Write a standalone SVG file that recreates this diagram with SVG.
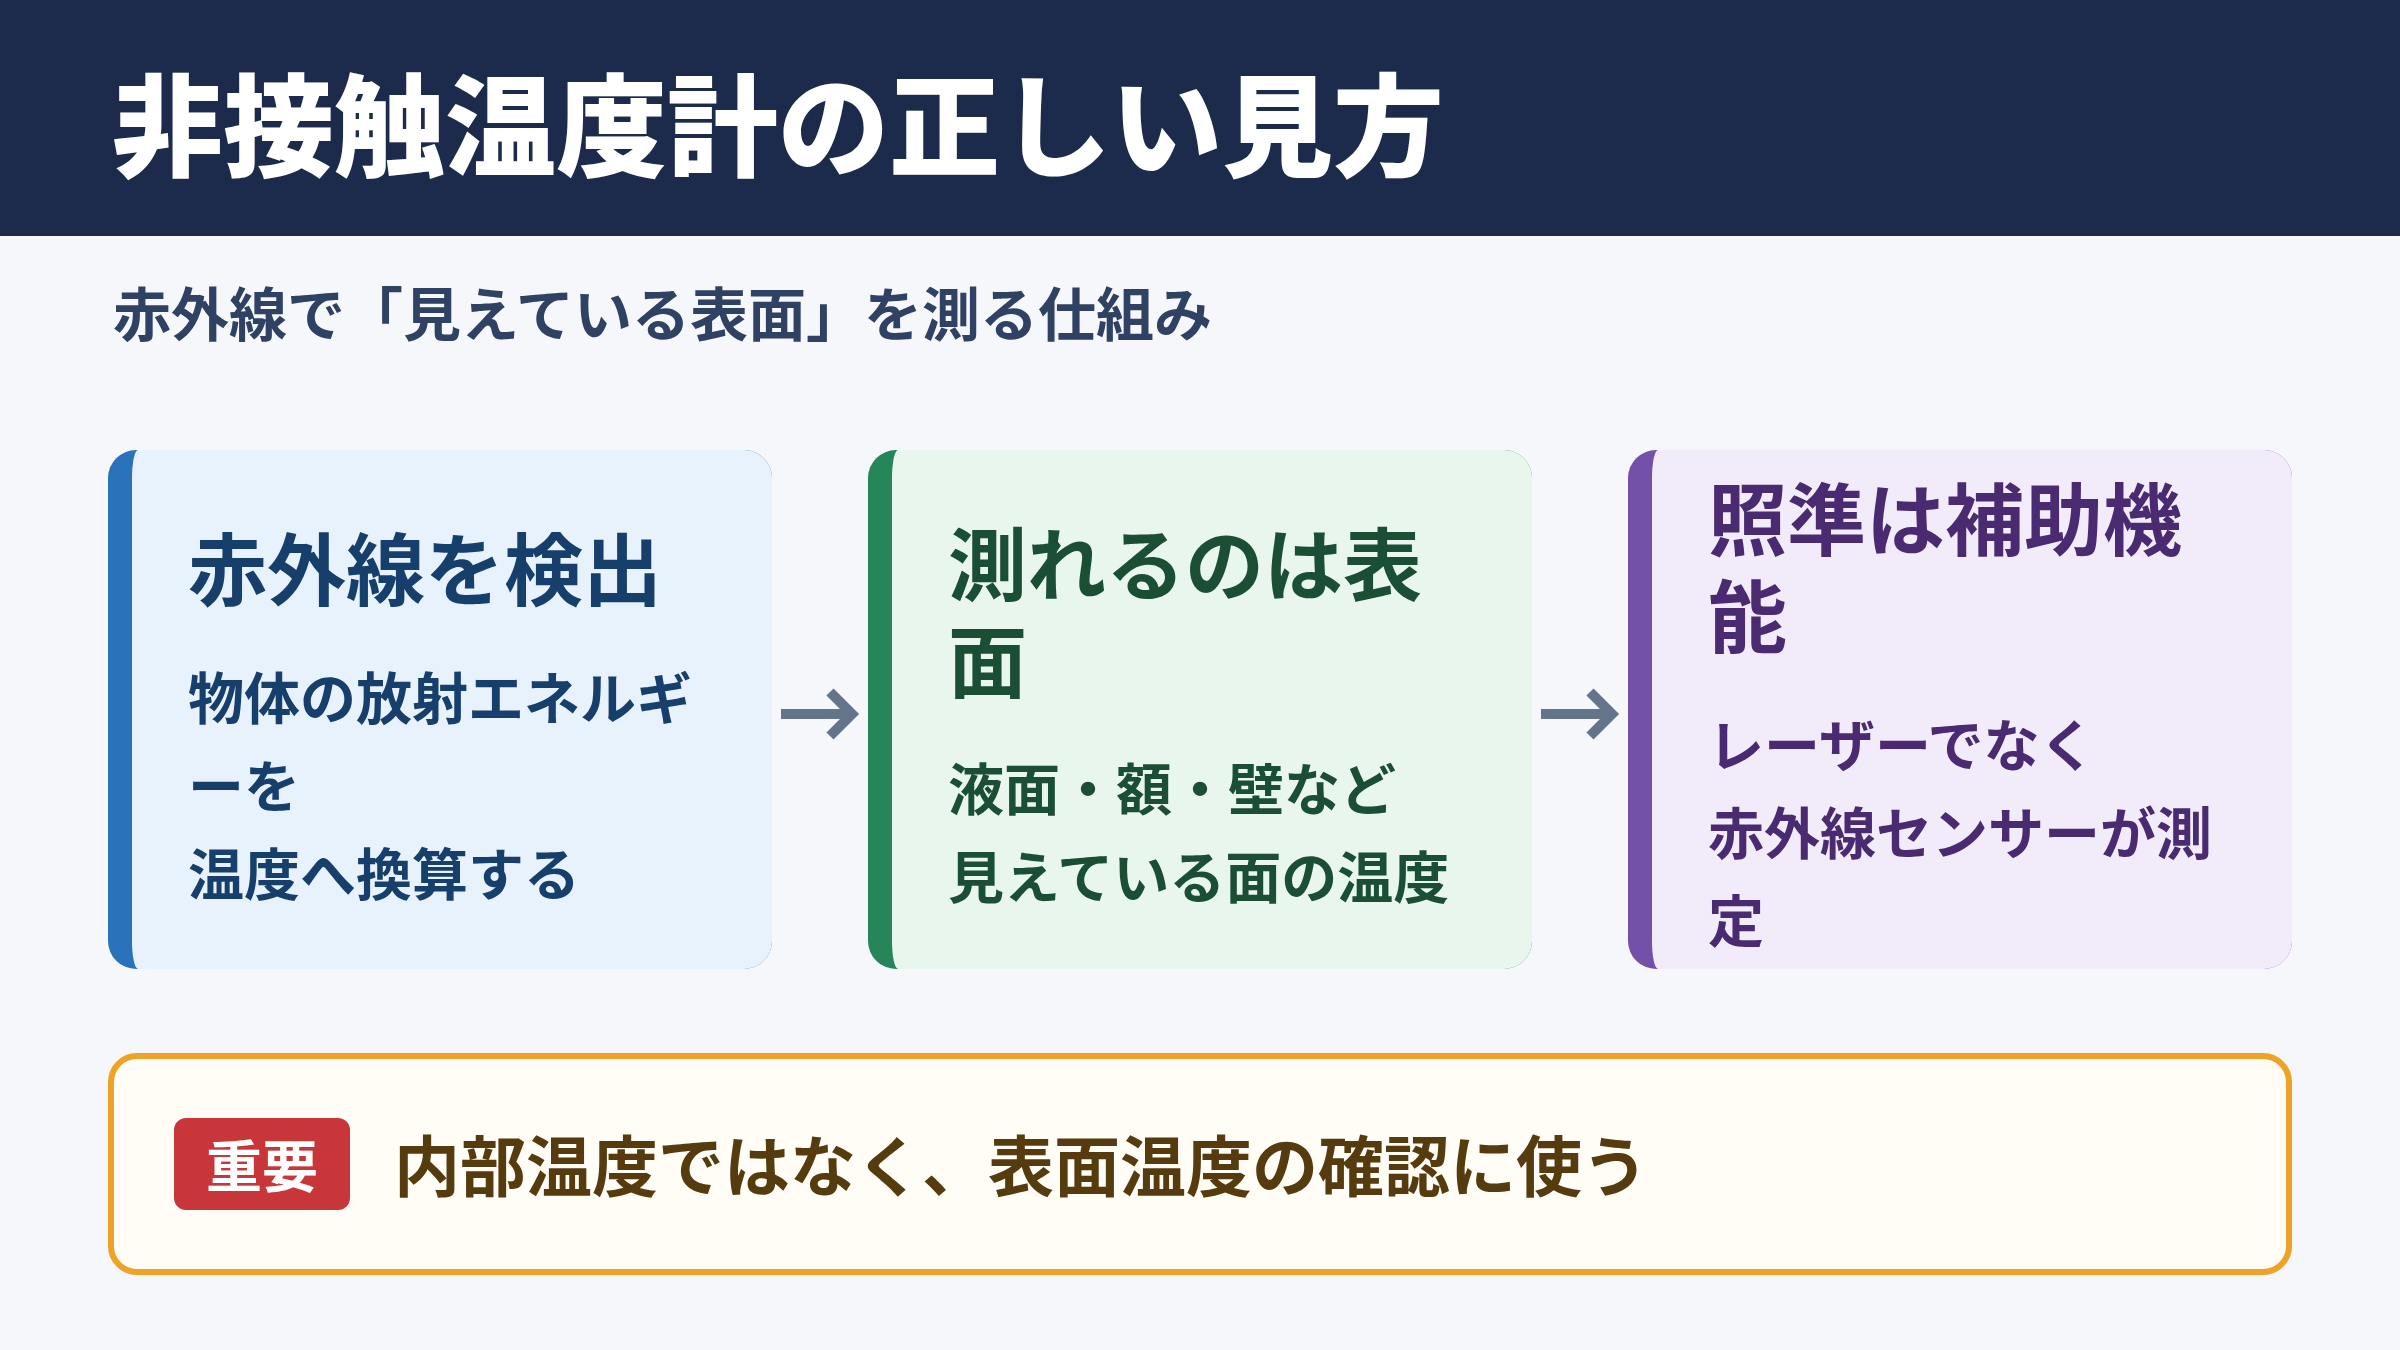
<svg xmlns="http://www.w3.org/2000/svg" width="2400" height="1350" viewBox="0 0 2400 1350">
<style>
text{font-family:"Noto Sans CJK JP","Noto Sans CJK SC",sans-serif;font-weight:700}
.title{font-size:111px;fill:#ffffff;font-weight:900}
.sub{font-size:58px;fill:#2f4263}
.ct{font-size:79px}
.cb{font-size:56px}
.c1{fill:#173f6b}.c2{fill:#1b4f35}.c3{fill:#4a2b72}
.arrow{fill:none;stroke:#64748b;stroke-width:10;stroke-linejoin:miter}
</style>
<rect x="0" y="0" width="2400" height="1350" fill="#f5f7fb"/>
<g id="header">
<rect x="0" y="0" width="2400" height="236" fill="#1c2b4c"/>
<text class="title" x="112" y="168">非接触温度計の正しい見方</text>
</g>
<g id="subtitle">
<text class="sub" x="113" y="336">赤外線で「見えている表面」を測る仕組み</text>
</g>
<g id="card1">
<rect x="108" y="450" width="664" height="519" rx="28" fill="#2a73bb"/>
<path d="M138,450 H744 A28,28 0 0 1 772,478 V941 A28,28 0 0 1 744,969 H138 A6,28 0 0 1 132,941 V478 A6,28 0 0 1 138,450 Z" fill="#e8f2fd"/>
<text class="ct c1" x="188" y="600">赤外線を検出</text>
<text class="cb c1" x="188" y="719">物体の放射エネルギ</text>
<text class="cb c1" x="188" y="807">ーを</text>
<text class="cb c1" x="188" y="895">温度へ換算する</text>
</g>
<g id="card2">
<rect x="868" y="450" width="664" height="519" rx="28" fill="#27855a"/>
<path d="M898,450 H1504 A28,28 0 0 1 1532,478 V941 A28,28 0 0 1 1504,969 H898 A6,28 0 0 1 892,941 V478 A6,28 0 0 1 898,450 Z" fill="#e9f6ee"/>
<text class="ct c2" x="948" y="595">測れるのは表</text>
<text class="ct c2" x="948" y="692">面</text>
<text class="cb c2" x="948" y="810">液面・額・壁など</text>
<text class="cb c2" x="948" y="898">見えている面の温度</text>
</g>
<g id="card3">
<rect x="1628" y="450" width="664" height="519" rx="28" fill="#7451a8"/>
<path d="M1658,450 H2264 A28,28 0 0 1 2292,478 V941 A28,28 0 0 1 2264,969 H1658 A6,28 0 0 1 1652,941 V478 A6,28 0 0 1 1658,450 Z" fill="#f2ecfa"/>
<text class="ct c3" x="1708" y="550">照準は補助機</text>
<text class="ct c3" x="1708" y="647">能</text>
<text class="cb c3" x="1708" y="766">レーザーでなく</text>
<text class="cb c3" x="1708" y="854">赤外線センサーが測</text>
<text class="cb c3" x="1708" y="942">定</text>
</g>
<g id="connectors">
<path class="arrow" d="M781,714 H852 M830,692 L852,714 L830,736"/>
<path class="arrow" d="M1541,714 H1612 M1590,692 L1612,714 L1590,736"/>
</g>
<g id="note">
<rect x="111" y="1056" width="2178" height="216" rx="26" fill="#fffdf5" stroke="#eea327" stroke-width="6"/>
<rect x="174" y="1118" width="176" height="92" rx="12" fill="#c9363a"/>
<text x="262" y="1187" text-anchor="middle" font-size="56" fill="#ffffff">重要</text>
<text x="394" y="1191" font-size="66" fill="#553b0e">内部温度ではなく、表面温度の確認に使う</text>
</g>
</svg>
